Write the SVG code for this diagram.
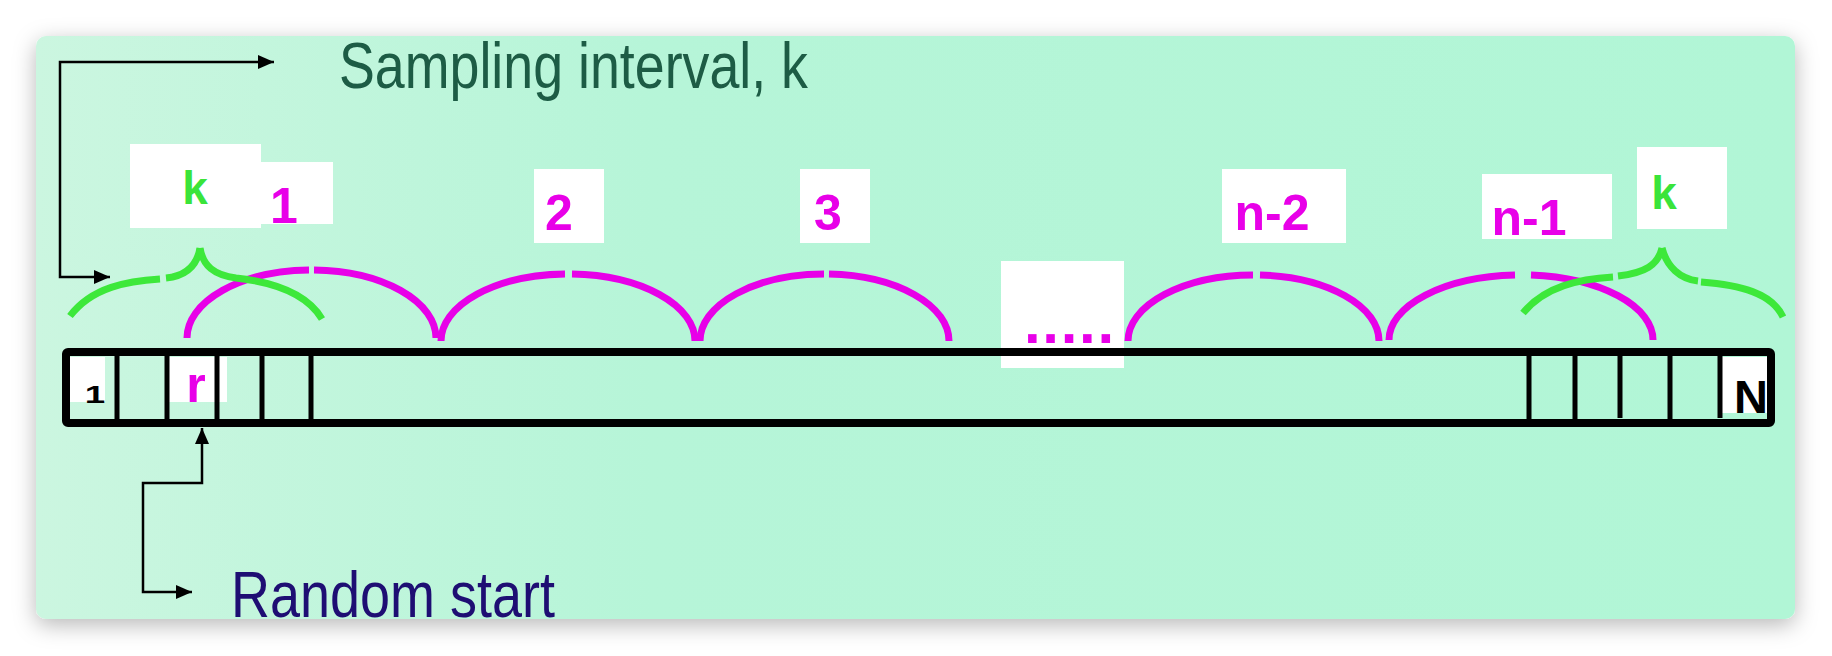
<svg xmlns="http://www.w3.org/2000/svg" width="1832" height="656" viewBox="0 0 1832 656">
<defs>
<linearGradient id="bg" x1="0" y1="0" x2="1" y2="0">
<stop offset="0" stop-color="#cbf6e0"/>
<stop offset="0.35" stop-color="#b6f5d8"/>
<stop offset="1" stop-color="#b1f6d6"/>
</linearGradient>
<filter id="sh" x="-5%" y="-15%" width="110%" height="135%">
<feDropShadow dx="0" dy="6" stdDeviation="11" flood-color="#000" flood-opacity="0.28"/>
</filter>
<marker id="ah" viewBox="0 0 16 14" refX="16" refY="7" markerWidth="16" markerHeight="14" markerUnits="userSpaceOnUse" orient="auto-start-reverse">
<path d="M0,0 L16,7 L0,14 z" fill="#000"/>
</marker>
<style>
.lbl{font-family:"Liberation Sans",Arial,sans-serif;font-weight:bold;text-anchor:middle}
.mag{fill:#e800e8}
.grn{fill:#3ae43a}
.box{fill:#ffffff}
.arc{fill:none;stroke:#e800e8;stroke-width:7}
.brace{fill:none;stroke:#3de83a;stroke-width:7}
.cell{stroke:#000;stroke-width:5}
.conn{fill:none;stroke:#000;stroke-width:2.5}
.big{font-family:"Liberation Sans",Arial,sans-serif;font-size:65px}
</style>
</defs>
<rect x="0" y="0" width="1832" height="656" fill="#ffffff"/>
<rect x="36" y="36" width="1759" height="583" rx="10" fill="url(#bg)" filter="url(#sh)"/>

<g id="title-sampling">
<text class="big" x="339" y="88" fill="#1d5c45" textLength="469" lengthAdjust="spacingAndGlyphs">Sampling interval, k</text>
</g>
<g id="title-random">
<text class="big" x="231" y="617" fill="#1e0e73" textLength="324" lengthAdjust="spacingAndGlyphs">Random start</text>
</g>

<g id="arcs">
<path class="arc" d="M187,338 A124.5,68 0 0 1 309,270"/>
<path class="arc" d="M314,270 A124.5,68 0 0 1 436,338"/>
<path class="arc" d="M441,341 A127,67 0 0 1 565,274"/>
<path class="arc" d="M572,274 A127,67 0 0 1 695,341"/>
<path class="arc" d="M700,341 A124.5,67 0 0 1 824,274"/>
<path class="arc" d="M829,274 A124.5,67 0 0 1 949,341"/>
<path class="arc" d="M1128,341 A125.5,66 0 0 1 1253,275"/>
<path class="arc" d="M1260,275 A125.5,66 0 0 1 1379,341"/>
<path class="arc" d="M1389,340 A132,65 0 0 1 1515,275"/>
<path class="arc" d="M1531,275 A132,65 0 0 1 1653,340"/>
</g>

<g id="brace-left">
<path class="brace" d="M70,316 C92,287 128,281 160,279"/>
<path class="brace" d="M166,278 C186,276 197,266 200,248"/>
<path class="brace" d="M200,248 C203,266 214,275 236,278 C272,282 306,292 322,319"/>
</g>
<g id="brace-right">
<path class="brace" d="M1523,313 C1545,286 1580,279 1613,277"/>
<path class="brace" d="M1618,276 C1645,273 1658,265 1662,248"/>
<path class="brace" d="M1662,248 C1667,267 1680,279 1698,281"/>
<path class="brace" d="M1701,282 C1740,285 1772,293 1783,317"/>
</g>

<g id="label-k-left">
<rect class="box" x="130" y="144" width="131" height="84"/>
<text class="lbl grn" x="195" y="204" font-size="46">k</text>
</g>
<g id="label-1">
<rect class="box" x="261" y="162" width="72" height="62"/>
<text class="lbl mag" x="284" y="223" font-size="50">1</text>
</g>
<g id="label-2">
<rect class="box" x="534" y="169" width="70" height="74"/>
<text class="lbl mag" x="559" y="230" font-size="50">2</text>
</g>
<g id="label-3">
<rect class="box" x="800" y="169" width="70" height="74"/>
<text class="lbl mag" x="828" y="230" font-size="50">3</text>
</g>
<g id="label-dots">
<rect class="box" x="1001" y="261" width="123" height="107"/>
<text class="lbl mag" x="1024" y="343" font-size="60" letter-spacing="1.7" style="text-anchor:start">.....</text>
</g>
<g id="label-n-2">
<rect class="box" x="1222" y="169" width="124" height="74"/>
<text class="lbl mag" x="1272" y="230" font-size="50">n-2</text>
</g>
<g id="label-n-1">
<rect class="box" x="1482" y="174" width="130" height="65"/>
<text class="lbl mag" x="1529" y="235" font-size="50">n-1</text>
</g>
<g id="label-k-right">
<rect class="box" x="1637" y="147" width="90" height="82"/>
<text class="lbl grn" x="1664" y="209" font-size="46">k</text>
</g>

<g id="strip">
<rect class="box" x="70" y="357" width="35" height="45"/>
<rect class="box" x="169" y="357" width="58" height="45"/>
<rect class="box" x="1722" y="357" width="45" height="56"/>
<rect x="66" y="352" width="1705" height="71" rx="2" fill="none" stroke="#000" stroke-width="8"/>
<line class="cell" x1="117" y1="352" x2="117" y2="423"/>
<line class="cell" x1="167" y1="352" x2="167" y2="423"/>
<line class="cell" x1="217" y1="352" x2="217" y2="423"/>
<line class="cell" x1="262" y1="352" x2="262" y2="423"/>
<line class="cell" x1="311" y1="352" x2="311" y2="423"/>
<line class="cell" x1="1529" y1="352" x2="1529" y2="423"/>
<line class="cell" x1="1575" y1="352" x2="1575" y2="423"/>
<line class="cell" x1="1620" y1="352" x2="1620" y2="418"/>
<line class="cell" x1="1670" y1="352" x2="1670" y2="423"/>
<line class="cell" x1="1720" y1="352" x2="1720" y2="418"/>
<text class="lbl" transform="translate(95,403) scale(1.6,1)" font-size="23" fill="#000">1</text>
<text class="lbl mag" x="196" y="402" font-size="50">r</text>
<text class="lbl" x="1751" y="413" font-size="47" fill="#000">N</text>
</g>

<g id="connectors">
<path class="conn" d="M110,277 H60 V62 H274" marker-start="url(#ah)" marker-end="url(#ah)"/>
<path class="conn" d="M202,428 V483 H143 V592 H192" marker-start="url(#ah)" marker-end="url(#ah)"/>
</g>
</svg>
